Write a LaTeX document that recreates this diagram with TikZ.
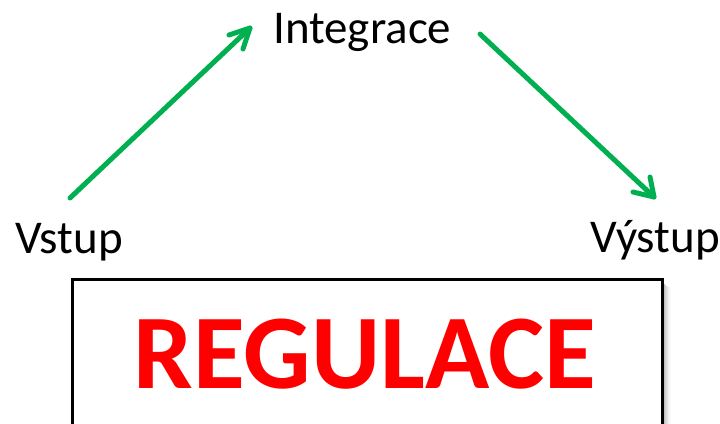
\documentclass[tikz,border=0pt]{standalone}
\usepackage{fontspec}
\setmainfont{Carlito}
\usetikzlibrary{calc}
\definecolor{offgreen}{HTML}{00B050}
\begin{document}
\begin{tikzpicture}[x=1pt,y=-1pt,
  lbl/.style={font=\fontsize{47}{52}\selectfont, inner sep=0pt, anchor=base west},
  flow/.style={offgreen, line width=5pt, line cap=round, line join=round}]
\useasboundingbox (0,0) rectangle (720,423);
\node[lbl] (in) at (15,253) {Vstup};
\node[lbl] (out) at (590,252) {Výstup};
\node[lbl] (int) at (273,43) {Integrace};
\coordinate (a1s) at (70,198);
\coordinate (a1e) at (250,28);
\coordinate (a2s) at (480,34);
\coordinate (a2e) at (654,197);
\draw[flow] (a1s) -- (a1e);
\draw[flow] ($(a1e)+(-21,7)$) -- (a1e) -- ($(a1e)+(-7,21)$);
\draw[flow] (a2s) -- (a2e);
\draw[flow] ($(a2e)+(-21,-5)$) -- (a2e) -- ($(a2e)+(-4,-20)$);
% shadow
\foreach \i/\o in {1/0.45,2/0.38,3/0.31,4/0.25,5/0.19,6/0.14,7/0.1,8/0.06,9/0.035,10/0.015}{
  \fill[black, opacity=\o] (661+\i-1,282+\i*0.6) rectangle (661+\i,440);
}
\node[draw, line width=2.5pt, fill=white, minimum width=590pt, minimum height=200pt, anchor=north west, inner sep=0pt] (box) at (71,278) {};
\node[font=\fontsize{106}{112}\selectfont\bfseries, text=red, inner sep=0pt, anchor=base] (reg) at (365,388) {REGULACE};
\end{tikzpicture}
\end{document}
